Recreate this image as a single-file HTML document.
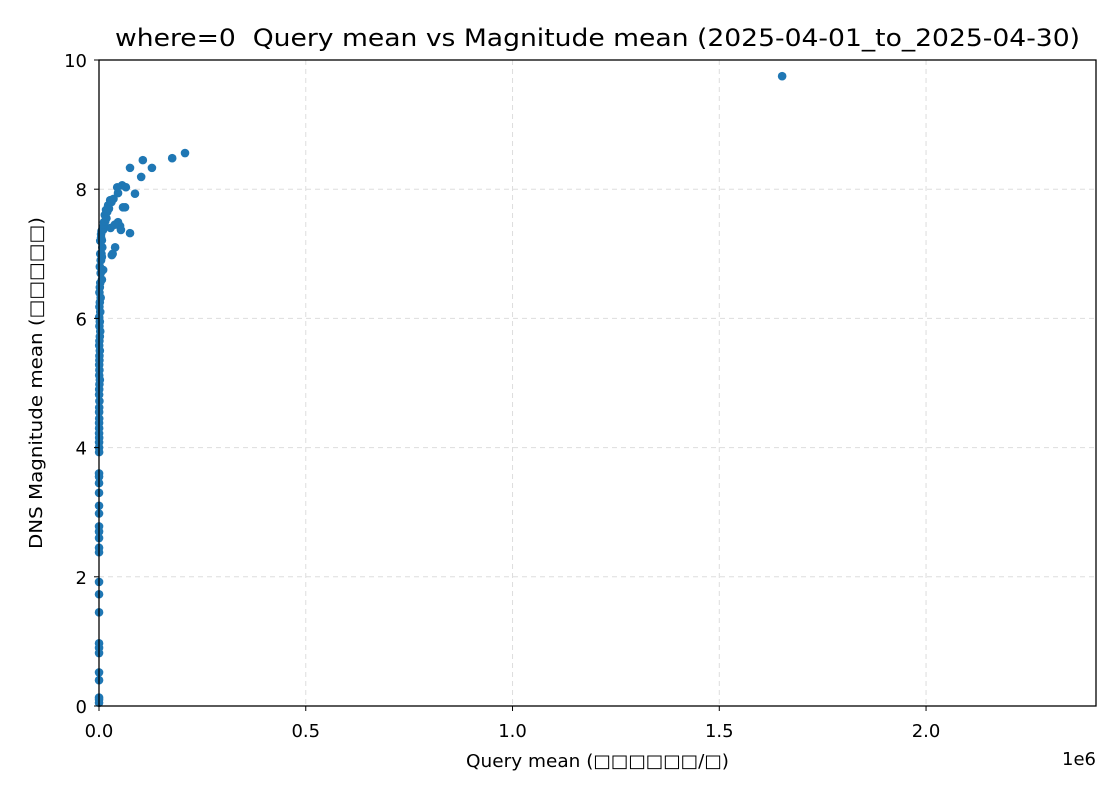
<!DOCTYPE html>
<html><head><meta charset="utf-8"><style>
body{margin:0;background:#fff;}
svg text{font-family:"DejaVu Sans","Liberation Sans",sans-serif;fill:#000;}
</style></head><body>
<svg id="chart" width="1120" height="800">
<rect width="1120" height="800" fill="#fff"/>
<text x="115" y="46" font-size="24" textLength="965" lengthAdjust="spacingAndGlyphs" style="white-space:pre">where=0  Query mean vs Magnitude mean (2025-04-01_to_2025-04-30)</text>
<g id="grid"></g>
<g id="points"></g>
<rect x="99" y="60" width="997" height="646" fill="none" stroke="#000" stroke-width="1.3"/>
<g id="ticks"></g>
<text x="466" y="767" font-size="18" textLength="263" lengthAdjust="spacingAndGlyphs">Query mean (□□□□□□/□)</text>
<text x="1096" y="765" font-size="18" text-anchor="end">1e6</text>
<text transform="translate(42,549) rotate(-90)" font-size="18" textLength="332" lengthAdjust="spacingAndGlyphs">DNS Magnitude mean (□□□□□)</text>
</svg>
<script>
const xTicks=[0,0.5,1.0,1.5,2.0];
const xTickLabels=["0.0","0.5","1.0","1.5","2.0"];
const yTicks=[0,2,4,6,8,10];
const yTickLabels=["0","2","4","6","8","10"];
const xs=[1652,208,177,106,128,75,102,56,65,44,87,46,58,63,75,46,51,53,39,31,27,22,17,14,12,10,7,5,10,7,
3,2,1,4,2,1,3,0.5,2,1,3,2,1,0.5,2,1,1,0.5,1,0.5,2,1,0.5,0.3,1,0.5,0.3,0.5,0.2,0.3,0.2,0.4,0.2,0.1,0.3,
0.1,0.1,0.1,0.1,0.1,0.1,0.1,0.1,0.1,0.1,0.1,0.1,0.1,0.1,0.1,0.1,0.1,0.1,0.1,0.1,0.1,0.1,
4,6,8,3,5,2,6,4,9,3,7,5,12,15,18,20,24,30,35,28,38,33];
const ys=[9.75,8.56,8.48,8.45,8.33,8.33,8.19,8.06,8.03,8.03,7.93,7.94,7.72,7.72,7.32,7.49,7.43,7.37,7.10,6.98,7.83,7.75,7.68,7.60,7.49,7.37,7.21,6.90,6.75,6.60,
6.55,6.48,6.40,6.32,6.25,6.18,6.10,6.02,5.95,5.88,5.80,5.72,5.65,5.58,5.50,5.42,5.35,5.28,5.20,5.12,5.05,4.98,4.90,4.82,4.72,4.62,4.55,4.45,4.38,4.30,4.22,4.15,4.08,4.00,3.93,
3.60,3.55,3.45,3.30,3.10,2.98,2.78,2.70,2.60,2.45,2.38,1.92,1.73,1.45,0.97,0.90,0.82,0.52,0.40,0.13,0.10,0.05,
6.9,7.0,7.1,7.2,7.3,6.8,7.35,6.7,7.4,7.0,6.95,7.25,7.45,7.5,7.55,7.65,7.7,7.8,7.85,7.4,7.45,7.0];
const X0=99,X1=1096,Y0=706,Y1=60,XMAX=2.411,YMAX=10;
const sx=v=>X0+v/XMAX*(X1-X0), sy=v=>Y0-v/YMAX*(Y0-Y1);
const NS="http://www.w3.org/2000/svg";
const grid=document.getElementById('grid'),ticks=document.getElementById('ticks'),pts=document.getElementById('points');
function mk(t,a){const e=document.createElementNS(NS,t);for(const k in a)e.setAttribute(k,a[k]);return e;}
xTicks.forEach((v,i)=>{const x=sx(v);
 const g=mk('line',{x1:x,x2:x,y1:Y1,y2:Y0,stroke:'#ddd','stroke-dasharray':'5,4','stroke-width':1});
 
 grid.appendChild(g);
 const t=mk('line',{x1:x,x2:x,y1:Y0,y2:Y0+5,stroke:'#000'});
 
 ticks.appendChild(t);
 const l=mk('text',{x:x,y:Y0+31,'font-size':18,'text-anchor':'middle'});l.textContent=xTickLabels[i];
 
 ticks.appendChild(l);});
yTicks.forEach((v,i)=>{const y=sy(v);
 const g=mk('line',{x1:X0,x2:X1,y1:y,y2:y,stroke:'#ddd','stroke-dasharray':'5,4','stroke-width':1});
 
 grid.appendChild(g);
 const t=mk('line',{x1:X0-5,x2:X0,y1:y,y2:y,stroke:'#000'});
 
 ticks.appendChild(t);
 const l=mk('text',{x:X0-12,y:y+7,'font-size':18,'text-anchor':'end'});l.textContent=yTickLabels[i];
 
 ticks.appendChild(l);});
xs.forEach((v,i)=>{const c=mk('circle',{cx:sx(v/1000),cy:sy(ys[i]),r:4.3,fill:'#1f77b4'});
 
 pts.appendChild(c);});
</script>
</body></html>
